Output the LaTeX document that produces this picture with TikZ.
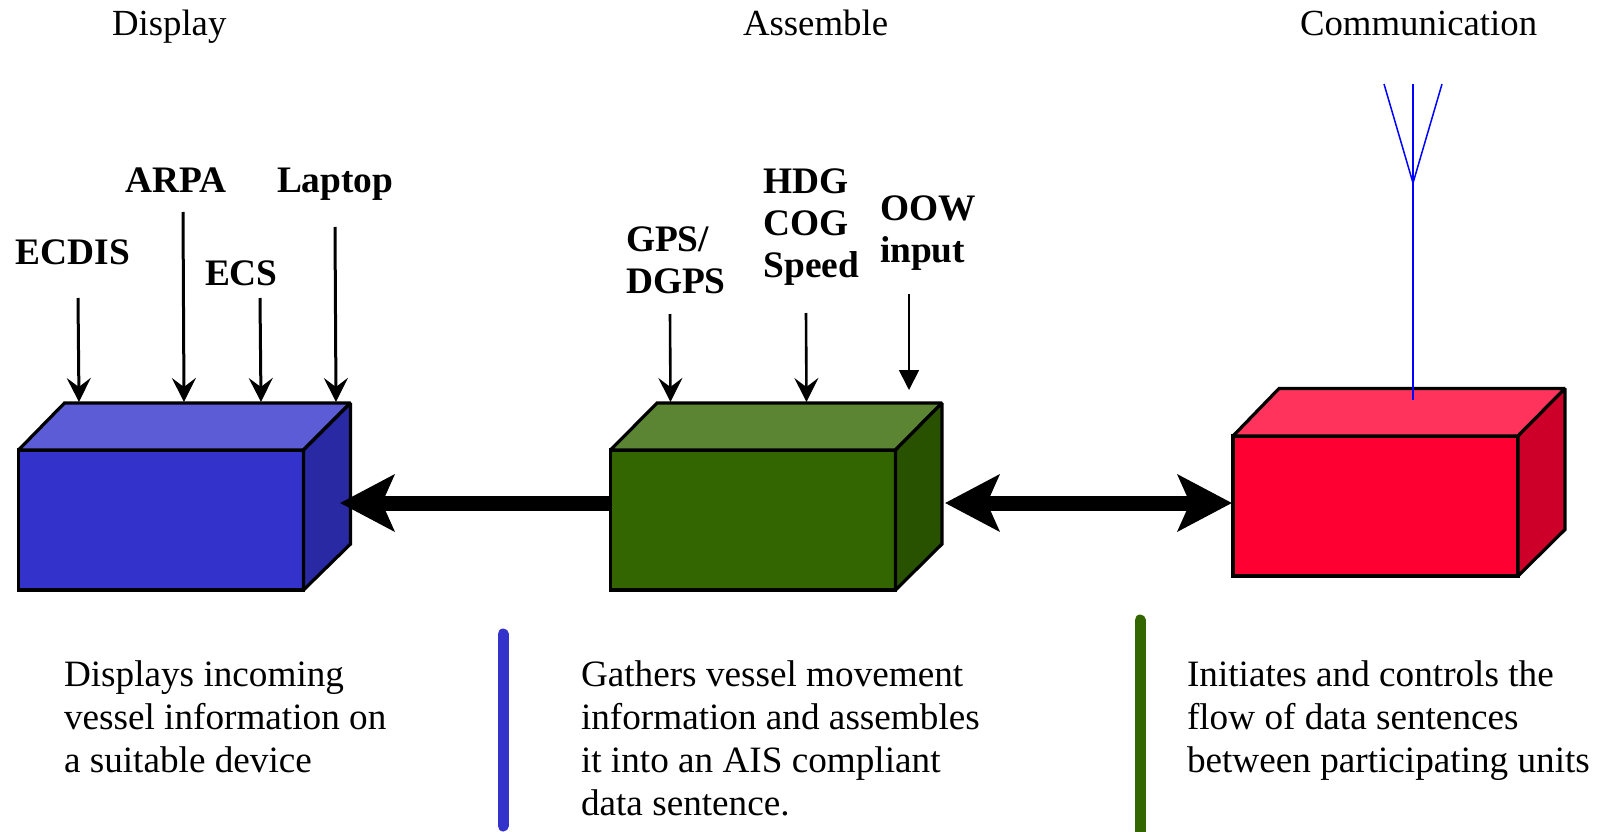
\documentclass[tikz,border=0pt]{standalone}
\usepackage{fontspec}
\setmainfont{Liberation Serif}
\usetikzlibrary{arrows.meta}
\definecolor{bluef}{HTML}{3333CC}\definecolor{bluet}{HTML}{5C5CD6}\definecolor{blues}{HTML}{2929A3}
\definecolor{greenf}{HTML}{336600}\definecolor{greent}{HTML}{5C8533}\definecolor{greens}{HTML}{295200}
\definecolor{redf}{HTML}{FF0033}\definecolor{redt}{HTML}{FF335C}\definecolor{reds}{HTML}{CC0029}
\tikzset{
  x=1pt,y=-1pt,
  facebox/.style={draw=black,line width=3.2pt,line join=miter,miter limit=1.5,fill=#1},
  frontbox/.style={facebox=#1,minimum width=285pt,minimum height=140pt,inner sep=0pt,outer sep=0pt,anchor=north west},
  head/.style={anchor=base west,inner sep=0pt,outer sep=0pt,font=\fontsize{36.8}{43}\selectfont},
  body/.style={anchor=base west,inner sep=0pt,outer sep=0pt,align=left,font=\fontsize{37.2}{43}\selectfont},
  tag/.style={anchor=base west,inner sep=0pt,outer sep=0pt,align=left,font=\fontsize{37.4}{42}\selectfont\bfseries},
  inarrow/.style={draw=black,line width=3pt,-{Stealth[length=24pt,width=24pt,inset=9pt]}},
  inarrowb/.style={draw=black,line width=2.6pt,-{Stealth[length=24pt,width=24pt,inset=9pt]}},
  thinarrow/.style={draw=black,line width=1.8pt,-{Triangle[length=20pt,width=20pt]}},
  bigarrow/.style={draw=black,line width=15pt},
  aerial/.style={draw=blue,line width=1.5pt},
  divider/.style={line width=11pt,line cap=round,draw=#1}
}
\begin{document}
\begin{tikzpicture}
\useasboundingbox (0,0) rectangle (1603,832);
% boxes
\node[frontbox=bluef] (disp) at (18.5,450) {};
\filldraw[facebox=bluet] (disp.north west) -- (64.5,403) -- (350.5,403) -- (disp.north east) -- cycle;
\filldraw[facebox=blues] (disp.north east) -- (350.5,403) -- (350.5,544) -- (disp.south east) -- cycle;
\node[frontbox=greenf] (asm) at (610.5,450) {};
\filldraw[facebox=greent] (asm.north west) -- (657,403) -- (942,403) -- (asm.north east) -- cycle;
\filldraw[facebox=greens] (asm.north east) -- (942,403) -- (942,544) -- (asm.south east) -- cycle;
\node[frontbox=redf] (comm) at (1233,436) {};
\filldraw[facebox=redt] (comm.north west) -- (1279,388.5) -- (1565,388.5) -- (comm.north east) -- cycle;
\filldraw[facebox=reds] (comm.north east) -- (1565,388.5) -- (1565,529.5) -- (comm.south east) -- cycle;
% headings
\node[head] (h1) at (112,35.5) {Display};
\node[head] (h2) at (743,35.5) {Assemble};
\node[head] (h3) at (1300,35.5) {Communication};
% input labels
\node[tag] (ecdis) at (16,264) {ECDIS};
\node[tag] (arpa) at (125,192) {ARPA};
\node[tag] (ecs) at (205,285) {ECS};
\node[tag] (laptop) at (277,192) {Laptop};
\node[tag] (gps) at (626,293) {GPS/\\DGPS};
\node[tag] (hdg) at (763.5,277) {HDG\\COG\\Speed};
\node[tag] (oow) at (880,262) {OOW\\input};
% arrow ends
\coordinate (a1s) at (78,298); \coordinate (a1e) at (79,402);
\coordinate (a2s) at (183,212); \coordinate (a2e) at (184,402);
\coordinate (a3s) at (260,298); \coordinate (a3e) at (261,402);
\coordinate (a4s) at (335,227); \coordinate (a4e) at (336,402);
\coordinate (a5s) at (670,314); \coordinate (a5e) at (670.5,402);
\coordinate (a6s) at (806,313); \coordinate (a6e) at (806.5,402);
\coordinate (a7s) at (909,294); \coordinate (a7e) at (909,390);
\draw[inarrow] (a1s) -- (a1e);
\draw[inarrow] (a2s) -- (a2e);
\draw[inarrow] (a3s) -- (a3e);
\draw[inarrow] (a4s) -- (a4e);
\draw[inarrowb] (a5s) -- (a5e);
\draw[inarrowb] (a6s) -- (a6e);
\draw[thinarrow] (a7s) -- (a7e);
% data flow
\coordinate (b1s) at (610,503); \coordinate (b1e) at (340,503);
\coordinate (b2s) at (945,503); \coordinate (b2e) at (1232,503);
\draw[bigarrow,-{Stealth[length=54pt,width=56pt,inset=12pt]}] (b1s) -- (b1e);
\draw[bigarrow,{Stealth[length=54pt,width=56pt,inset=12pt]}-{Stealth[length=54pt,width=56pt,inset=12pt]}] (b2s) -- (b2e);
% antenna
\coordinate (an0) at (1413,400); \coordinate (an1) at (1413,183);
\coordinate (an2) at (1413,84); \coordinate (an3) at (1384,84); \coordinate (an4) at (1442,84);
\draw[aerial] (an0) -- (an2);
\draw[aerial,line join=miter] (an3) -- (an1) -- (an4);
% descriptions
\node[body] (t1) at (64,772.5) {Displays incoming\\vessel information on\\a suitable device};
\node[body] (t2) at (581,815.5) {Gathers vessel movement\\information and assembles\\it into an AIS compliant\\data sentence.};
\node[body] (t3) at (1187,772.5) {Initiates and controls the\\flow of data sentences\\between participating units};
% dividers
\coordinate (d1a) at (503,634); \coordinate (d1b) at (503,826);
\coordinate (d2a) at (1140,620); \coordinate (d2b) at (1140,845);
\draw[divider=bluef] (d1a) -- (d1b);
\draw[divider=greenf] (d2a) -- (d2b);
\end{tikzpicture}
\end{document}
